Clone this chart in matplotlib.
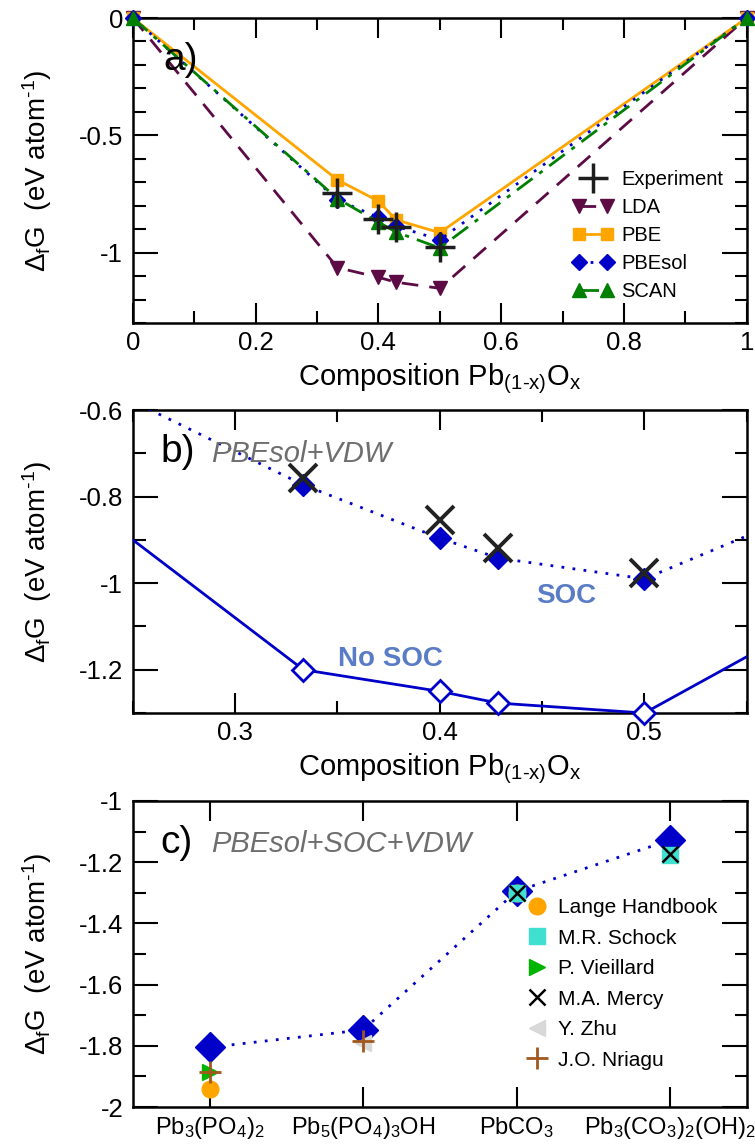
import matplotlib
matplotlib.use("Agg")
import matplotlib.pyplot as plt
from matplotlib.ticker import MultipleLocator, FuncFormatter
from matplotlib.legend_handler import HandlerLine2D

plt.rcParams['font.family'] = ['Liberation Sans', 'DejaVu Sans']
plt.rcParams['mathtext.fontset'] = 'custom'
plt.rcParams['mathtext.rm'] = 'Liberation Sans'
plt.rcParams['mathtext.it'] = 'Liberation Sans:italic'
plt.rcParams['mathtext.bf'] = 'Liberation Sans:bold'
plt.rcParams['mathtext.default'] = 'regular'
plt.rcParams['axes.unicode_minus'] = False

# ---------------- data ----------------
# panel a
comp_a = [0, 1/3, 0.4, 3/7, 0.5, 1]
lda = [0, -1.064, -1.105, -1.126, -1.152, 0]
pbe = [0, -0.69, -0.78, -0.86, -0.915, 0]
pbesol = [0, -0.775, -0.85, -0.887, -0.945, 0]
scan = [0, -0.77, -0.87, -0.912, -0.98, 0]
comp_exp = [1/3, 0.4, 3/7, 0.5]
exp_a = [-0.746, -0.855, -0.89, -0.975]

# panel b
comp_b = [0, 1/3, 0.4, 3/7, 0.5, 1]
soc = [0, -0.773, -0.896, -0.942, -0.99, 0]
nosoc = [0, -1.2, -1.25, -1.277, -1.3, 0]
exp_b = [-0.758, -0.854, -0.919, -0.977]

# panel c
compounds = ['Pb$_3$(PO$_4$)$_2$', 'Pb$_5$(PO$_4$)$_3$OH', 'PbCO$_3$',
             'Pb$_3$(CO$_3$)$_2$(OH)$_2$']
calc_c = [-1.805, -1.748, -1.295, -1.128]
lange_idx, lange = [0, 2], [-1.94, -1.30]
schock_idx, schock = [2, 3], [-1.30, -1.178]
vieillard_idx, vieillard = [0], [-1.884]
mercy_idx, mercy = [2, 3], [-1.30, -1.172]
zhu_idx, zhu = [1], [-1.792]
nriagu_idx, nriagu = [0, 1], [-1.884, -1.785]

# ---------------- style ----------------
BLUE = '#0000c8'
LABEL_BLUE = '#5a7cc6'
GRAY = '#6e6e6e'
TICK_FS = 18.5
LAB_FS = 20
HY = '\u2010'
YLAB = r'$\Delta_f$G  (eV atom$^{' + HY + '1}$)'
XLAB = 'Composition Pb$_{(1' + HY + 'x)}$O$_x$'

fig = plt.figure(figsize=(7.55, 11.48), dpi=100)
axA = fig.add_axes([0.176, 0.7186, 0.813, 0.2657])
axB = fig.add_axes([0.176, 0.3789, 0.813, 0.2639])
axC = fig.add_axes([0.176, 0.0357, 0.813, 0.2666])

fmt = FuncFormatter(lambda v, p: '%g' % round(v, 6))


def style(ax, numeric_x=True):
    ax.tick_params(which='both', direction='in', top=True, right=True,
                   width=1.5)
    ax.tick_params(axis='y', which='major', length=18, labelsize=TICK_FS, pad=7)
    ax.tick_params(axis='y', which='minor', length=9)
    ax.tick_params(axis='x', which='major', length=14.5,
                   labelsize=TICK_FS if numeric_x else 17, pad=6)
    ax.tick_params(axis='x', which='minor', length=8.5)
    for s in ax.spines.values():
        s.set_linewidth(1.8)
    ax.yaxis.set_major_formatter(fmt)
    ax.set_ylabel(YLAB, fontsize=LAB_FS)
    ax.yaxis.set_label_coords(-0.128, 0.5)


# ---------------- panel a ----------------
axA.plot(comp_a, lda, ls=(0, (6, 4)), color='#5c0b45', lw=2, marker='v',
         ms=10, label='LDA', clip_on=False, zorder=3)
axA.plot(comp_a, pbe, ls='-', color='#ffa500', lw=2, marker='s',
         ms=9, label='PBE', clip_on=False, zorder=3)
axA.plot(comp_a, pbesol, ls=(0, (1, 3)), color=BLUE, lw=2, marker='D',
         ms=8, label='PBEsol', clip_on=False, zorder=3)
axA.plot(comp_a, scan, ls=(0, (7, 3, 1.5, 3)), color='#008000', lw=2,
         marker='^', ms=10, label='SCAN', clip_on=False, zorder=3)
hexp = axA.plot(comp_exp, exp_a, ls='none', marker='+', ms=22, mew=2.5,
                color='#1e1e1e', label='Experiment', zorder=5)[0]
axA.set_xlim(0, 1)
axA.set_ylim(-1.3, 0)
axA.xaxis.set_major_locator(MultipleLocator(0.2))
axA.xaxis.set_minor_locator(MultipleLocator(0.1))
axA.yaxis.set_major_locator(MultipleLocator(0.5))
axA.yaxis.set_minor_locator(MultipleLocator(0.1))
axA.xaxis.set_major_formatter(fmt)
style(axA)
axA.set_xlabel(XLAB, fontsize=21, labelpad=4)
axA.text(0.05, 0.862, 'a)', transform=axA.transAxes, fontsize=28,
         va='center', ha='left')
hA, lA = axA.get_legend_handles_labels()
order = [lA.index(n) for n in ['Experiment', 'LDA', 'PBE', 'PBEsol', 'SCAN']]
axA.legend([hA[i] for i in order], [lA[i] for i in order],
           loc='upper left', bbox_to_anchor=(0.7, 0.534), frameon=False,
           fontsize=14.5, numpoints=2, handlelength=2.0,
           handletextpad=0.4, labelspacing=0.45, borderpad=0,
           handler_map={hexp: HandlerLine2D(numpoints=1)})

# ---------------- panel b ----------------
axB.plot(comp_b, soc, ls=(0, (1, 3)), color=BLUE, lw=2, zorder=3)
axB.plot(comp_b[1:-1], soc[1:-1], ls='none', color=BLUE, marker='D', ms=11,
         clip_on=False, zorder=3)
axB.plot(comp_b, nosoc, ls='-', color=BLUE, lw=2, zorder=3)
axB.plot(comp_b[1:-1], nosoc[1:-1], ls='none', color=BLUE, marker='D', ms=11,
         mfc='white', mew=2, clip_on=False, zorder=4)
axB.plot(comp_exp, exp_b, ls='none', marker='x', ms=20, mew=2.8,
         color='#222222', zorder=5)
axB.set_xlim(0.25, 0.55)
axB.set_ylim(-1.3, -0.6)
axB.xaxis.set_major_locator(MultipleLocator(0.1))
axB.xaxis.set_minor_locator(MultipleLocator(0.05))
axB.yaxis.set_major_locator(MultipleLocator(0.2))
axB.yaxis.set_minor_locator(MultipleLocator(0.1))
axB.xaxis.set_major_formatter(fmt)
style(axB)
axB.set_xlabel(XLAB, fontsize=21, labelpad=4)
axB.text(0.045, 0.86, 'b)', transform=axB.transAxes, fontsize=28,
         va='center', ha='left')
axB.text(0.128, 0.855, 'PBEsol+VDW', transform=axB.transAxes, fontsize=21,
         style='italic', color=GRAY, va='center', ha='left')
axB.text(0.462, -1.03, 'SOC', fontsize=20, fontweight='bold',
         color=LABEL_BLUE, ha='center', va='center')
axB.text(0.376, -1.175, 'No SOC', fontsize=20, fontweight='bold',
         color=LABEL_BLUE, ha='center', va='center')

# ---------------- panel c ----------------
xc = list(range(len(compounds)))
axC.plot(xc, calc_c, ls=(0, (1, 3)), color=BLUE, lw=2, marker='D', ms=15,
         zorder=3)
axC.plot(lange_idx, lange, ls='none', marker='o', ms=12, color='#ffa500',
         label='Lange Handbook', zorder=4)
axC.plot(schock_idx, schock, ls='none', marker='s', ms=11, color='#40e0d0',
         label='M.R. Schock', zorder=4)
axC.plot(vieillard_idx, vieillard, ls='none', marker='>', ms=12,
         color='#00b400', label='P. Vieillard', zorder=4)
axC.plot(mercy_idx, mercy, ls='none', marker='x', ms=12, mew=1.8,
         color='black', label='M.A. Mercy', zorder=6)
axC.plot(zhu_idx, zhu, ls='none', marker='<', ms=12, color='#d8d8d8',
         label='Y. Zhu', zorder=4)
axC.plot(nriagu_idx, nriagu, ls='none', marker='+', ms=16, mew=2,
         color='#a0581e', label='J.O. Nriagu', zorder=5)
axC.set_xlim(-0.5, 3.5)
axC.set_ylim(-2, -1)
axC.set_xticks(xc)
axC.set_xticklabels(compounds)
axC.yaxis.set_major_locator(MultipleLocator(0.2))
axC.yaxis.set_minor_locator(MultipleLocator(0.1))
style(axC, numeric_x=False)
axC.text(0.045, 0.863, 'c)', transform=axC.transAxes, fontsize=28,
         va='center', ha='left')
axC.text(0.128, 0.858, 'PBEsol+SOC+VDW', transform=axC.transAxes,
         fontsize=21, style='italic', color=GRAY, va='center', ha='left')
axC.legend(loc='upper left', bbox_to_anchor=(0.625, 0.716), frameon=False,
           fontsize=15, numpoints=1, handlelength=1.0, handletextpad=0.5,
           labelspacing=0.55, borderpad=0)

fig.savefig('out.png', dpi=100)
